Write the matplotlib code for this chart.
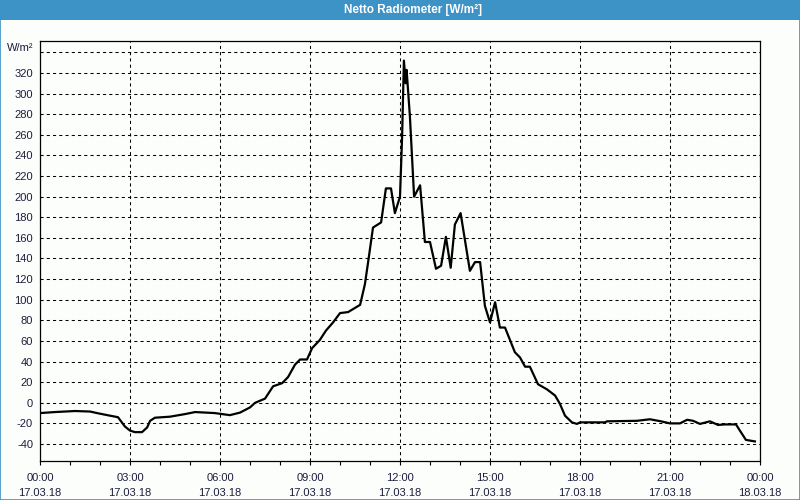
import matplotlib
matplotlib.use("Agg")
import matplotlib.pyplot as plt
from matplotlib.patches import Rectangle
from matplotlib.ticker import MultipleLocator
import matplotlib.transforms as mtransforms
import numpy as np

title = "Netto Radiometer [W/m²]"
unit_label = "W/m²"

# time in hours since 17.03.18 00:00
hours = [0.0, 0.5, 1.17, 1.67, 1.9, 2.33, 2.6, 2.83, 3.0, 3.17, 3.4, 3.57, 3.67, 3.83,
         4.33, 4.83, 5.17, 5.5, 5.83, 6.33, 6.67, 7.0, 7.17, 7.5, 7.77, 8.07, 8.27, 8.5,
         8.67, 8.9, 9.07, 9.33, 9.53, 9.77, 10.0, 10.27, 10.67, 10.83, 10.93, 11.1, 11.37,
         11.53, 11.7, 11.83, 12.0, 12.07, 12.13, 12.19, 12.22, 12.33, 12.47, 12.67, 12.83,
         13.0, 13.2, 13.37, 13.53, 13.69, 13.83, 14.02, 14.33, 14.5, 14.67, 14.83, 15.0,
         15.17, 15.33, 15.5, 15.83, 16.0, 16.17, 16.33, 16.6, 16.9, 17.17, 17.33, 17.5,
         17.73, 17.9, 18.0, 18.83, 18.9, 19.9, 20.33, 20.7, 21.0, 21.33, 21.57, 21.77,
         22.0, 22.33, 22.6, 22.83, 23.2, 23.33, 23.53, 23.83]
values = [-10, -9, -8, -8.5, -10, -12.5, -14, -23, -27, -28.5, -28.5, -24, -17.5, -14.5,
          -13.5, -11, -9, -9.5, -10, -12, -9.5, -4.5, 0, 4, 16, 19, 25, 37,
          42, 42, 53, 61, 70, 78, 87, 88, 95, 115, 135, 170, 175,
          208, 208, 184, 200, 258, 332, 310, 323, 278, 200, 211, 156,
          156, 130, 133, 161, 131, 173, 184, 128, 136.5, 136.5, 94, 78,
          97.6, 73, 73, 49, 44, 35, 35, 18, 13, 7, -1, -12.5,
          -19, -20.5, -19, -19, -18, -17.5, -16, -18, -20, -20, -16.5, -17.5,
          -20.5, -18, -21.5, -21, -21, -27, -36, -37.5]

x_tick_hours = [0, 3, 6, 9, 12, 15, 18, 21, 24]
x_tick_labels = ["00:00\n17.03.18", "03:00\n17.03.18", "06:00\n17.03.18", "09:00\n17.03.18",
                 "12:00\n17.03.18", "15:00\n17.03.18", "18:00\n17.03.18", "21:00\n17.03.18",
                 "00:00\n18.03.18"]
y_ticks = list(range(-40, 341, 20))
y_tick_labels = [str(v) for v in y_ticks[:-1]] + [unit_label]

plt.rcParams['font.family'] = ['Liberation Sans', 'DejaVu Sans']
text_color = '#1c1c3c'
blue = '#3d92c6'

fig = plt.figure(figsize=(8, 5), dpi=100)
fig.patch.set_facecolor('#fcfefc')

# title bar and outer border
fig.patches.append(Rectangle((0, 0.96), 1, 0.04, transform=fig.transFigure,
                             facecolor=blue, edgecolor='none', zorder=0))
fig.patches.append(Rectangle((0.0006, 0.001), 0.9988, 0.998, transform=fig.transFigure,
                             facecolor='none', edgecolor=blue, lw=1.2, zorder=1))
fig.text(0.516, 0.98, title, color='white', fontweight='bold', fontsize=8.5,
         ha='center', va='center')

ax = fig.add_axes([0.05, 0.0786, 0.9, 0.8400])
ax.set_facecolor('#fcfefc')
ax.plot(hours, values, color='black', lw=1.6, zorder=3)

ax.set_xlim(0, 24)
ax.set_ylim(-56.2, 351.3)
ax.set_xticks(x_tick_hours)
ax.set_xticklabels(x_tick_labels, fontsize=8, color=text_color, linespacing=1.55)
ax.xaxis.set_minor_locator(MultipleLocator(1))
ax.set_yticks(y_ticks)
ax.set_yticklabels(y_tick_labels, fontsize=8, color=text_color)

ax.tick_params(axis='x', which='major', direction='out', length=3, width=0.8,
               color='black', pad=6)
ax.tick_params(axis='x', which='minor', direction='out', length=3, width=0.8, color='black')
ax.tick_params(axis='y', which='both', length=0, pad=5)

# raise the unit label a little, as in the reference
unit_tick = ax.get_yticklabels()[-1]
unit_tick.set_transform(unit_tick.get_transform() +
                        mtransforms.ScaledTranslation(0, 5 / 100, fig.dpi_scale_trans))

ax.grid(True, which='major', color='black', linestyle=(0, (3, 3)), lw=0.75)
for s in ax.spines.values():
    s.set_color('black')
    s.set_linewidth(0.9)

fig.savefig('out.png', dpi=100, facecolor=fig.get_facecolor())
